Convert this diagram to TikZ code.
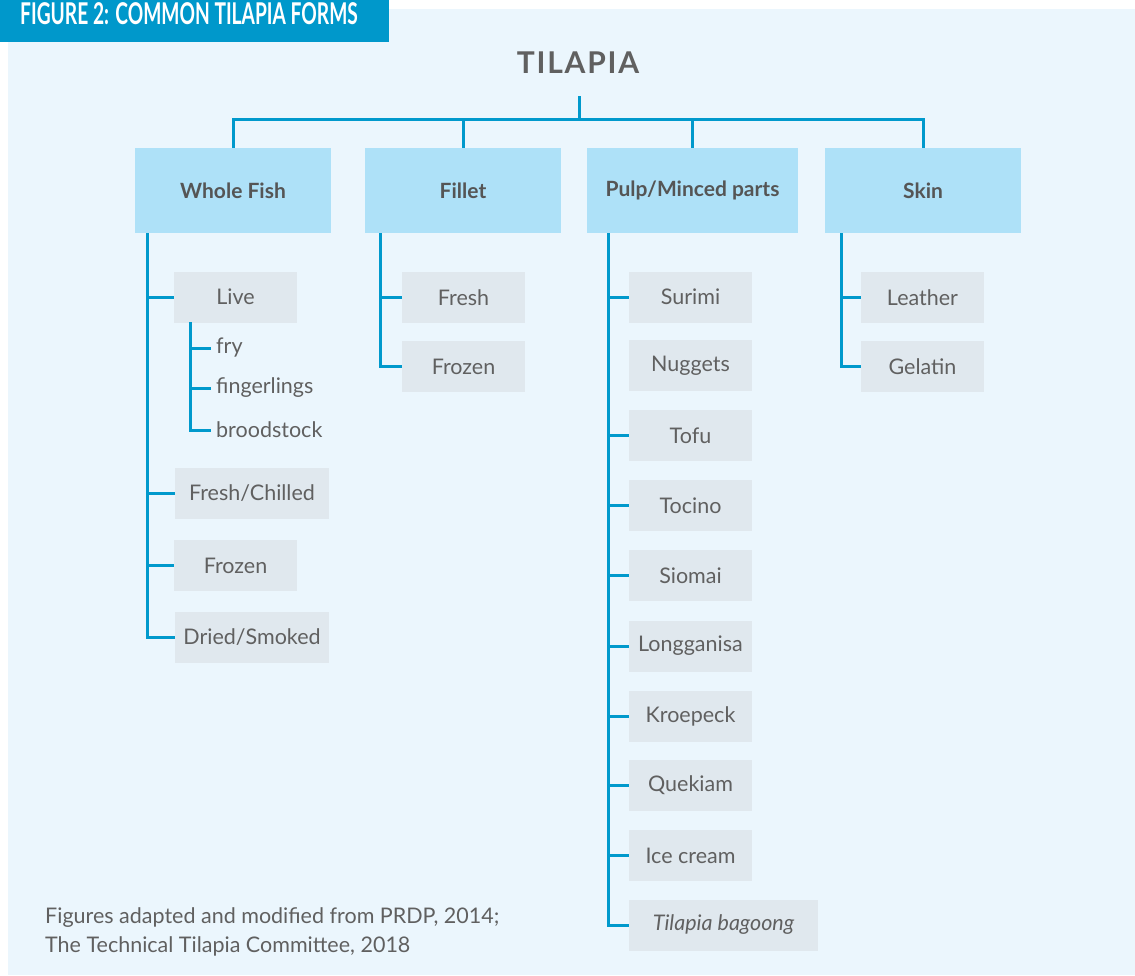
\documentclass[tikz,border=0pt]{standalone}
\usepackage{fontspec}
\setmainfont{Lato}
\definecolor{panelbg}{HTML}{EBF6FD}
\definecolor{headblue}{HTML}{0098CB}
\definecolor{linkblue}{HTML}{0099CC}
\definecolor{topfill}{HTML}{AEE1F8}
\definecolor{subfill}{HTML}{E0E8EE}
\definecolor{topgray}{HTML}{555555}
\definecolor{subgray}{HTML}{606060}
\tikzset{
  topbox/.style={fill=topfill, minimum width=196pt, minimum height=85pt, inner sep=0pt,
    text=topgray, font=\bfseries\fontsize{21}{24}\selectfont},
  subbox/.style={fill=subfill, minimum width=123pt, minimum height=51pt, inner sep=0pt,
    text=subgray, font=\fontsize{21.5}{24}\selectfont},
  wide/.style={minimum width=154pt},
  leaf/.style={anchor=west, inner xsep=5pt, inner ysep=0pt, text=subgray,
    font=\fontsize{21.5}{24}\selectfont},
  note/.style={anchor=base west, inner sep=0pt, text=subgray, font=\fontsize{21.5}{24}\selectfont},
  link/.style={draw=linkblue, line width=3pt},
}

\begin{document}
\begin{tikzpicture}[x=1pt, y=-1pt]
\useasboundingbox (0,0) rectangle (1135,975);
\fill[white] (0,0) rectangle (1135,975);
\fill[panelbg] (8,9) rectangle (1135,975);
\fill[headblue] (0,0) rectangle (389,42);
\node[anchor=base west, inner sep=0pt, text=white] (caption) at (20,24)
  {\scalebox{0.64}[1]{\fontsize{30}{30}\selectfont\bfseries FIGURE 2: COMMON TILAPIA FORMS}};

\node[text=subgray, font=\bfseries\fontsize{30}{30}\selectfont\addfontfeature{LetterSpace=6}] (title) at (578,63) {TILAPIA};
\coordinate (top) at (579,96);
\coordinate (hub) at (579,119);

\node[topbox] (whole)  at (233,190.5) {Whole Fish};
\node[topbox] (fillet) at (463,190.5) {Fillet};
\node[topbox, minimum width=211pt] (pulp) at (692.5,190.5) {Pulp/Minced parts};
\node[topbox] (skin)   at (923,190.5) {Skin};

\draw[link] (top) -- (hub);
\foreach \b in {whole,fillet,pulp,skin}
{
  \draw[link] (hub) -| (\b.north);
}

% whole fish
\node[subbox] (live)    at (235.5,297) {Live};
\node[subbox, wide] (chilled) at (252,493.5) {Fresh/Chilled};
\node[subbox] (wfrozen) at (235.5,565.5) {Frozen};
\node[subbox, wide] (dried)   at (252,637.5) {Dried/Smoked};
\coordinate (wtrunk) at (147,233);
\foreach \s in {live,chilled,wfrozen,dried}
{
  \draw[link] (wtrunk) |- (\s.west);
}

\node[leaf] (fry)   at (211,348) {fry};
\node[leaf] (fing)  at (211,388) {fingerlings};
\node[leaf] (brood) at (211,430) {broodstock};
\coordinate (ltrunk) at (190,322);
\foreach \s in {fry,fing,brood}
{
  \draw[link] (ltrunk) |- (\s.west);
}

% fillet
\node[subbox] (ffresh)  at (463.5,297.5) {Fresh};
\node[subbox] (ffrozen) at (463.5,366.5) {Frozen};
\coordinate (ftrunk) at (380,233);
\foreach \s in {ffresh,ffrozen}
{
  \draw[link] (ftrunk) |- (\s.west);
}

% pulp / minced parts
\foreach \n/\y/\t in {p1/297/Surimi, p2/365.5/Nuggets, p3/435.5/Tofu, p4/505.5/Tocino,
  p5/575.5/Siomai, p6/646/Longganisa, p7/716/Kroepeck, p8/785.5/Quekiam, p9/855.5/Ice cream}
{
  \node[subbox] (\n) at (690.5,\y) {\t};
}
\node[subbox, minimum width=189pt] (p10) at (723.5,925) {\itshape Tilapia bagoong};
\coordinate (ptrunk) at (608,233);
\foreach \s in {p1,p3,p4,p5,p6,p7,p8,p9,p10}
{
  \draw[link] (ptrunk) |- (\s.west);
}

% skin
\node[subbox] (leather) at (922.5,297.5) {Leather};
\node[subbox] (gelatin) at (922.5,366.5) {Gelatin};
\coordinate (strunk) at (841,233);
\foreach \s in {leather,gelatin}
{
  \draw[link] (strunk) |- (\s.west);
}

\node[note] (note1) at (45,923) {Figures adapted and modified from PRDP, 2014;};
\node[note] (note2) at (45,952) {The Technical Tilapia Committee, 2018};
\end{tikzpicture}
\end{document}
